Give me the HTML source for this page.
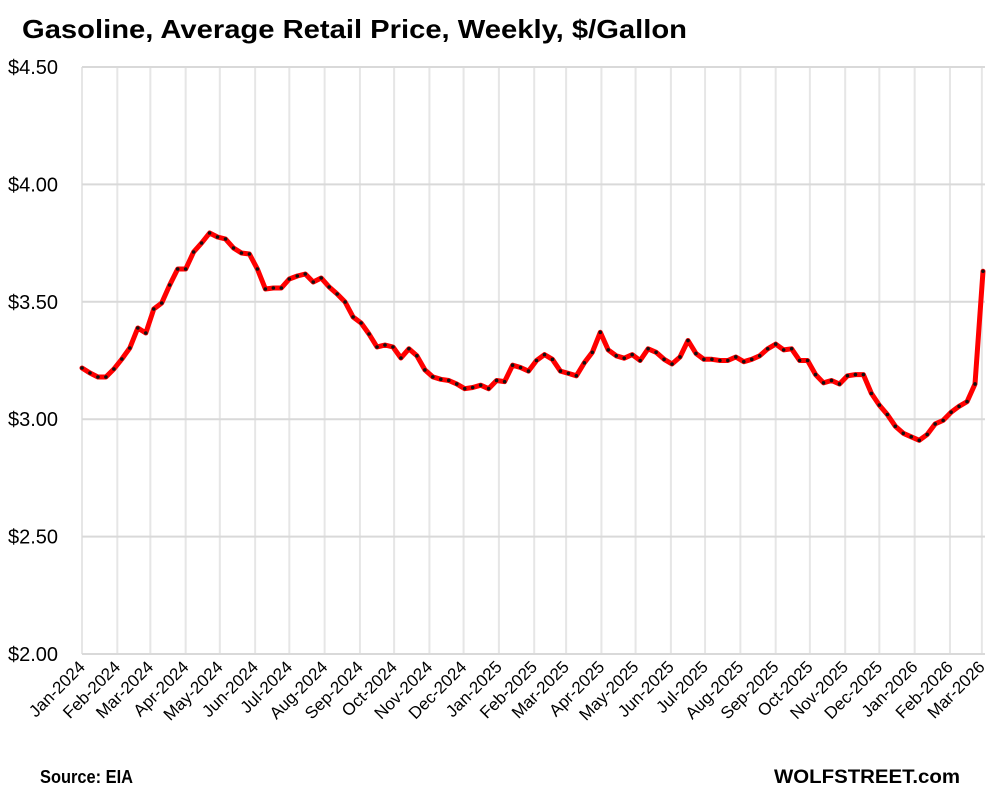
<!DOCTYPE html>
<html><head><meta charset="utf-8"><style>
body{margin:0;background:#fff;width:999px;height:799px;overflow:hidden;font-family:"Liberation Sans",sans-serif}
</style></head><body>
<svg id="s" width="999" height="799" xmlns="http://www.w3.org/2000/svg" font-family="Liberation Sans, sans-serif">
<text x="22" y="38" font-size="26" font-weight="bold" fill="#000" textLength="665" lengthAdjust="spacingAndGlyphs">Gasoline, Average Retail Price, Weekly, $/Gallon</text>
<text x="40" y="783" font-size="18" font-weight="bold" textLength="93" lengthAdjust="spacingAndGlyphs">Source: EIA</text>
<text x="774" y="783" font-size="19" font-weight="bold" textLength="186" lengthAdjust="spacingAndGlyphs">WOLFSTREET.com</text>
</svg>
<script>
var s=document.getElementById('s'),NS='http://www.w3.org/2000/svg';
function el(t,a,txt){var e=document.createElementNS(NS,t);for(var k in a)e.setAttribute(k,a[k]);if(txt)e.textContent=txt;s.appendChild(e);return e;}
var x0=82,ppd=234.8;
function Y(p){return 654-(p-2)*ppd;}
var step=901/113,perDay=step/7;
var base=Date.UTC(2024,0,1);
var mons=['Jan','Feb','Mar','Apr','May','Jun','Jul','Aug','Sep','Oct','Nov','Dec'];
for(var i=0;i<27;i++){var yr=2024+Math.floor(i/12),m=i%12;var d=(Date.UTC(yr,m,1)-base)/864e5;var x=x0+d*perDay;
el('line',{x1:x,x2:x,y1:67,y2:654,stroke:'#e6e6e6','stroke-width':2});
el('text',{x:0,y:0,'font-size':17,'text-anchor':'end',transform:'translate('+(x+4)+',668) rotate(-45)'},mons[m]+'-'+yr);}
var labs=['$2.00','$2.50','$3.00','$3.50','$4.00','$4.50'];
for(var j=0;j<6;j++){var y=Y(2+j*0.5);el('line',{x1:82,x2:985,y1:y,y2:y,stroke:'#d9d9d9','stroke-width':2});
el('text',{x:8,y:y+7,'font-size':20},labs[j]);}
var py=[368,373,377,377,369,359,348,328,333,309,303,285,269,269,252,243,233,237,239,248,253,254,269,289,288,288,279,276,274,282,278,287,294,302,317,323,334,347,345,347,358];
var p=py.map(function(v){return 2+(654-v)/ppd;});
p=p.concat([3.30,3.27,3.21,3.18,3.17,3.165,3.15,3.13,3.135,3.145,3.13,3.165,3.16,3.23,3.22,3.205,3.25,3.275,3.255,3.205,3.195,3.185,3.24,3.285,3.37,3.295,3.27,3.26,3.275,3.25,3.30,3.285,3.255,3.235,3.265,3.335,3.28,3.255,3.255,3.25,3.25,3.265,3.245,3.255,3.27,3.30,3.32,3.295,3.30,3.25,3.25,3.19,3.155,3.165,3.15,3.185,3.19,3.19,3.11,3.06,3.02,2.97,2.94,2.925,2.91,2.935,2.98,2.995,3.03,3.055,3.075,3.15,3.63]);
var d='';p.forEach(function(v,i){d+=(i?'L':'M')+(x0+i*step).toFixed(1)+' '+Y(v).toFixed(1);});
el('path',{d:d,fill:'none',stroke:'#ff0000','stroke-width':5,'stroke-linejoin':'round','stroke-linecap':'round'});
p.forEach(function(v,i){el('circle',{cx:x0+i*step,cy:Y(v),r:1.8,fill:'#111'});});
</script>
</body></html>
